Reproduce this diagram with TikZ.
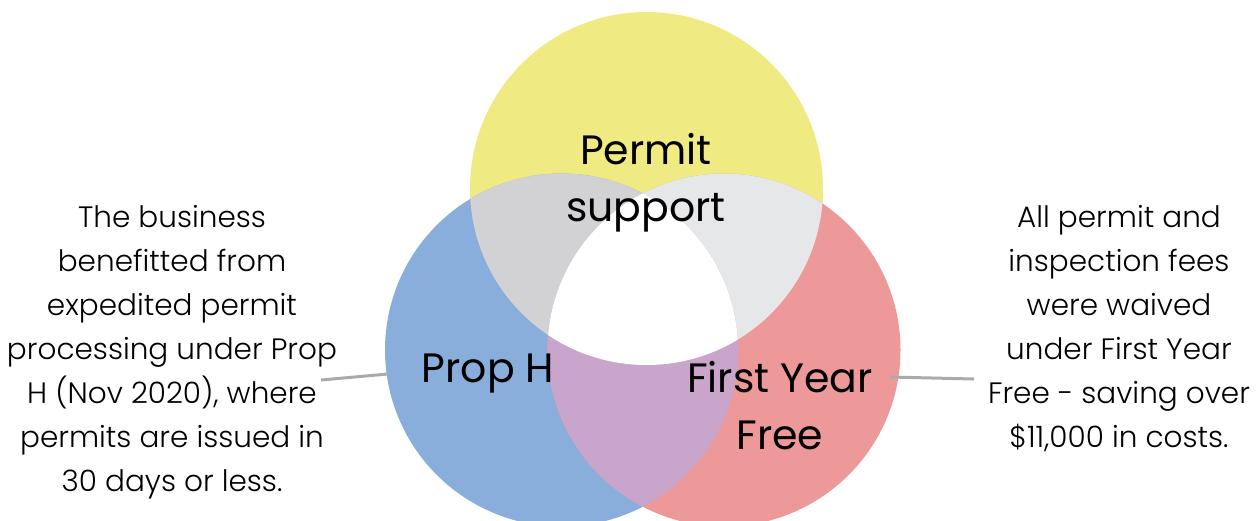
\documentclass[tikz,border=0pt]{standalone}
\usepackage{fontspec}
\setmainfont{Poppins}
\newfontfamily\lightfont{Poppins}[UprightFont={* Light}]
\definecolor{cyel}{RGB}{239,235,130}
\definecolor{cblue}{RGB}{137,174,219}
\definecolor{cred}{RGB}{238,153,153}
\definecolor{cyb}{RGB}{210,210,212}
\definecolor{cyr}{RGB}{230,231,232}
\definecolor{cbr}{RGB}{201,165,203}
\definecolor{cline}{RGB}{170,170,170}
\begin{document}
\begin{tikzpicture}[x=1pt,y=-1pt,
  lbl/.style={font=\fontsize{41}{57}\selectfont, align=center, inner sep=0pt},
  side/.style={font=\lightfont\fontsize{29.5}{44}\selectfont, align=center, inner sep=0pt},
  conn/.style={draw=cline, line width=3pt}]
\useasboundingbox (0,0) rectangle (1257,520);
\def\Y{(646.5,188.5) circle (176.5)}
\def\B{(561.5,350) circle (176.5)}
\def\R{(724,350) circle (176.5)}
\fill[cyel] \Y;
\fill[cblue] \B;
\fill[cred] \R;
\begin{scope}\clip \Y; \fill[cyb] \B; \end{scope}
\begin{scope}\clip \Y; \fill[cyr] \R; \end{scope}
\begin{scope}\clip \B; \fill[cbr] \R; \end{scope}
\begin{scope}\clip \Y; \clip \B; \fill[white] \R; \end{scope}
\node[lbl] (permit) at (646,183) {Permit\\support};
\node[lbl] (proph) at (488,374) {Prop H};
\node[lbl] (fyf) at (780,406) {First Year\\Free};
\node[side] (lt) at (172,352) {The business\\benefitted from\\expedited permit\\processing under Prop\\H (Nov 2020), where\\permits are issued in\\30 days or less.};
\node[side] (rt) at (1119,329) {All permit and\\inspection fees\\were waived\\under First Year\\Free - saving over\\\$11,000 in costs.};
\coordinate (lc) at (388,374);
\coordinate (rc) at (890,377);
\draw[conn] (321,380) -- (lc);
\draw[conn] (rc) -- (974,379);
\end{tikzpicture}
\end{document}
